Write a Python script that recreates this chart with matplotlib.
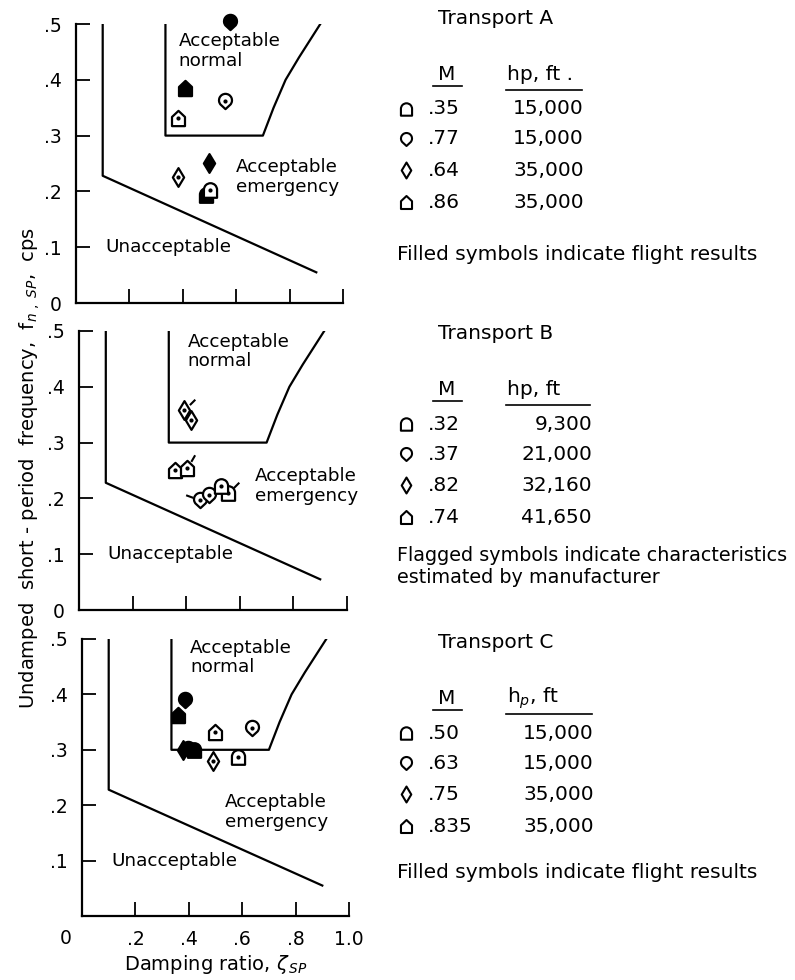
import matplotlib
matplotlib.use("Agg")
import matplotlib.pyplot as plt
import numpy as np
from matplotlib.path import Path

plt.rcParams["font.family"] = ["DejaVu Sans"]
plt.rcParams["mathtext.fontset"] = "dejavusans"

# criteria boundaries (same for the three transports)
UNACC_ZETA = [0.10, 0.10, 0.90]
UNACC_FREQ = [0.50, 0.228, 0.055]
NORMAL_ZETA = [0.335, 0.335, 0.70, 0.74, 0.785, 0.835, 0.875, 0.915]
NORMAL_FREQ = [0.50, 0.30, 0.30, 0.35, 0.40, 0.44, 0.47, 0.50]

# Transport A (filled = flight results)
A_ZETA = [0.577, 0.408, 0.558, 0.382, 0.498, 0.382, 0.487, 0.502]
A_FREQ = [0.503, 0.386, 0.362, 0.331, 0.251, 0.226, 0.194, 0.203]
A_SYM = ["tear", "house", "tear", "house", "diam", "diam", "tomb", "tomb"]
A_FILLED = [1, 1, 0, 0, 1, 0, 1, 0]

# Transport B (flag angle = estimated by manufacturer)
B_ZETA = [0.392, 0.418, 0.358, 0.403, 0.451, 0.486, 0.557, 0.529]
B_FREQ = [0.358, 0.340, 0.251, 0.255, 0.197, 0.206, 0.209, 0.222]
B_SYM = ["diam", "diam", "house", "house", "tear", "tear", "tomb", "tomb"]
B_FILLED = [0, 0, 0, 0, 0, 0, 0, 0]
B_FLAG = [45, None, None, 60, 160, None, 45, None]

# Transport C
C_ZETA = [0.386, 0.360, 0.498, 0.637, 0.380, 0.398, 0.418, 0.490, 0.585]
C_FREQ = [0.390, 0.363, 0.332, 0.339, 0.300, 0.302, 0.300, 0.280, 0.287]
C_SYM = ["tear", "house", "house", "tear", "diam", "tear", "tomb", "diam", "tomb"]
C_FILLED = [1, 1, 0, 0, 1, 1, 1, 0, 0]

KEY_SYM = ["tomb", "tear", "diam", "house"]
A_MACH = [".35", ".77", ".64", ".86"]
A_ALT = ["15,000", "15,000", "35,000", "35,000"]
B_MACH = [".32", ".37", ".82", ".74"]
B_ALT = ["9,300", "21,000", "32,160", "41,650"]
C_MACH = [".50", ".63", ".75", ".835"]
C_ALT = ["15,000", "15,000", "35,000", "35,000"]


def make_markers():
    arc = Path.arc(0, 180)
    av = arc.vertices * np.array([0.9, 0.9]) + np.array([0, 0.1])
    v = [(-0.9, -1), (0.9, -1)] + [tuple(p) for p in av] + [(-0.9, -1)]
    c = [Path.MOVETO, Path.LINETO, Path.LINETO] + list(arc.codes[1:]) + [Path.CLOSEPOLY]
    tomb = Path(v, c)

    arc = Path.arc(-40, 220)
    av = arc.vertices * 0.85 + np.array([0, 0.15])
    v = [tuple(p) for p in av] + [(0, -1), (0, -1)]
    c = list(arc.codes) + [Path.LINETO, Path.CLOSEPOLY]
    tear = Path(v, c)

    diam = Path([(0, 1), (0.6, 0), (0, -1), (-0.6, 0), (0, 1)],
                [Path.MOVETO, Path.LINETO, Path.LINETO, Path.LINETO, Path.CLOSEPOLY])
    house = Path([(-0.85, -1), (0.85, -1), (0.85, 0.2), (0, 1), (-0.85, 0.2), (-0.85, -1)],
                 [Path.MOVETO, Path.LINETO, Path.LINETO, Path.LINETO, Path.LINETO, Path.CLOSEPOLY])
    return {"tomb": tomb, "tear": tear, "diam": diam, "house": house}


MARKERS = make_markers()
MSIZE = {"tomb": 10.5, "tear": 11, "diam": 13.5, "house": 11}


def flag_marker(angle):
    a = np.deg2rad(angle)
    ca, sa = np.cos(a), np.sin(a)
    return Path([(-1, -1), (1, 1), (0.5 * ca, 0.5 * sa), (ca, sa)],
                [Path.MOVETO, Path.MOVETO, Path.MOVETO, Path.LINETO])


def draw_points(ax, zeta, freq, sym, filled, flags=None):
    for i in range(len(zeta)):
        face = "black" if filled[i] else "white"
        z = 3 + i * 0.01
        ax.plot(zeta[i], freq[i], linestyle="none", marker=MARKERS[sym[i]],
                ms=MSIZE[sym[i]], mfc=face, mec="black", mew=1.6, clip_on=False, zorder=z)
        if not filled[i]:
            ax.plot(zeta[i], freq[i], "o", ms=2, color="black", clip_on=False, zorder=z)
        if flags is not None and flags[i] is not None:
            ax.plot(zeta[i], freq[i], linestyle="none", marker=flag_marker(flags[i]),
                    ms=22, mfc="none", mec="black", mew=1.5, clip_on=False, zorder=z)


def setup_panel(ax, bottom_panel):
    ax.set_xlim(0, 1.0)
    ax.set_ylim(0, 0.5)
    for s in ["top", "right"]:
        ax.spines[s].set_visible(False)
    for s in ["left", "bottom"]:
        ax.spines[s].set_linewidth(1.6)
    ax.plot(UNACC_ZETA, UNACC_FREQ, color="black", lw=1.6)
    ax.plot(NORMAL_ZETA, NORMAL_FREQ, color="black", lw=1.6)
    ax.set_xticks([0.2, 0.4, 0.6, 0.8, 1.0])
    if bottom_panel:
        ax.set_xticklabels([".2", ".4", ".6", ".8", "1.0"])
        ax.set_yticks([0.1, 0.2, 0.3, 0.4, 0.5])
        ax.set_yticklabels([".1", ".2", ".3", ".4", ".5"])
        ax.annotate("0", xy=(0, 0), xytext=(-12, -16), textcoords="offset points",
                    ha="center", va="center", fontsize=13.5)
    else:
        ax.set_xticklabels([])
        ax.set_yticks([0, 0.1, 0.2, 0.3, 0.4, 0.5])
        ax.set_yticklabels(["0", ".1", ".2", ".3", ".4", ".5"])
    ax.tick_params(direction="in", length=10, width=1.3, labelsize=13.5)
    ax.tick_params(axis="y", pad=10)
    ax.tick_params(axis="x", pad=10)


def region_labels(ax, normal_xy, emerg_xy, unacc_xy):
    fs = 13.2
    ax.text(*normal_xy, "Acceptable\nnormal", fontsize=fs, va="top", ha="left", linespacing=1.1)
    ax.text(*emerg_xy, "Acceptable\nemergency", fontsize=fs, va="center", ha="left", linespacing=1.1)
    ax.text(*unacc_xy, "Unacceptable", fontsize=fs, va="center", ha="left")


def draw_key(kax, top, title, machs, alts, alt_right, alt_head, notes, note_y, note_fs):
    fs = 14.5
    kax.text(438, top, title, fontsize=fs, va="center", ha="left")
    kax.text(447, top + 56, "M", fontsize=fs, va="center", ha="center")
    kax.plot([433, 462], [top + 68, top + 68], color="black", lw=1.2)
    kax.text(507, top + 56, alt_head, fontsize=fs, va="center", ha="left")
    kax.plot([506, alt_right - 2], [top + 72, top + 72], color="black", lw=1.2)
    row_dy = [91, 121, 152, 184]
    for k in range(4):
        y = top + row_dy[k]
        kax.plot(406, y, linestyle="none", marker=MARKERS[KEY_SYM[k]], ms=MSIZE[KEY_SYM[k]] * 0.85,
                 mfc="white", mec="black", mew=1.5)
        kax.text(428, y, machs[k], fontsize=fs, va="center", ha="left")
        kax.text(alt_right, y, alts[k], fontsize=fs, va="center", ha="right")
    for j, line in enumerate(notes):
        kax.text(397, note_y + 22 * j, line, fontsize=note_fs, va="center", ha="left")


fig = plt.figure(figsize=(7.95, 9.8), dpi=100)

kax = fig.add_axes([0, 0, 1, 1])
kax.set_xlim(0, 795)
kax.set_ylim(980, 0)
kax.axis("off")

axA = fig.add_axes([76 / 795, 1 - 303 / 980, 267 / 795, 279 / 980])
axB = fig.add_axes([79 / 795, 1 - 610 / 980, 268 / 795, 279 / 980])
axC = fig.add_axes([82 / 795, 1 - 916 / 980, 267 / 795, 277 / 980])

setup_panel(axA, False)
setup_panel(axB, False)
setup_panel(axC, True)

region_labels(axA, (0.385, 0.485), (0.60, 0.226), (0.11, 0.10))
region_labels(axB, (0.405, 0.497), (0.655, 0.222), (0.105, 0.10))
region_labels(axC, (0.405, 0.500), (0.535, 0.188), (0.11, 0.10))

draw_points(axA, A_ZETA, A_FREQ, A_SYM, A_FILLED)
draw_points(axB, B_ZETA, B_FREQ, B_SYM, B_FILLED, B_FLAG)
draw_points(axC, C_ZETA, C_FREQ, C_SYM, C_FILLED)

axC.set_xlabel(r"Damping ratio, $\zeta_{\,SP}$", fontsize=14, labelpad=3)
fig.text(0.037, 0.522, r"Undamped  short - period  frequency,  f$_{n\ ,\ SP}$,  cps",
         rotation=90, fontsize=14, ha="center", va="center")

draw_key(kax, 18, "Transport A", A_MACH, A_ALT, 584, "hp, ft .",
         ["Filled symbols indicate flight results"], 254, 14.5)
draw_key(kax, 333, "Transport B", B_MACH, B_ALT, 592, "hp, ft",
         ["Flagged symbols indicate characteristics", "estimated by manufacturer"], 555, 13.8)
draw_key(kax, 642, "Transport C", C_MACH, C_ALT, 594, r"h$_p$, ft",
         ["Filled symbols indicate flight results"], 872, 14.5)

fig.savefig("out.png", dpi=100)
